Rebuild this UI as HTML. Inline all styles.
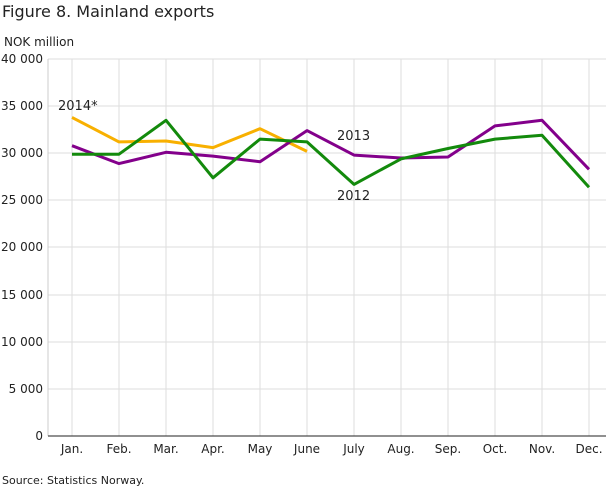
<!DOCTYPE html><html><head><style>body{margin:0;background:#fff;font-family:"Liberation Sans","DejaVu Sans",sans-serif}</style></head><body>
<svg width="610" height="488" xmlns="http://www.w3.org/2000/svg" font-family="'DejaVu Sans','Liberation Sans',sans-serif">
<text x="2" y="17" font-size="16" fill="#222">Figure 8. Mainland exports</text>
<text x="4" y="46" font-size="12" fill="#222">NOK million</text>
<g stroke="#ddd" stroke-width="1">
<line x1="48" x2="606" y1="59" y2="59"/><line x1="48" x2="606" y1="106" y2="106"/><line x1="48" x2="606" y1="153" y2="153"/><line x1="48" x2="606" y1="200" y2="200"/><line x1="48" x2="606" y1="247" y2="247"/><line x1="48" x2="606" y1="295" y2="295"/><line x1="48" x2="606" y1="342" y2="342"/><line x1="48" x2="606" y1="389" y2="389"/>
<line x1="72" x2="72" y1="59" y2="436"/><line x1="119" x2="119" y1="59" y2="436"/><line x1="166" x2="166" y1="59" y2="436"/><line x1="213" x2="213" y1="59" y2="436"/><line x1="260" x2="260" y1="59" y2="436"/><line x1="307" x2="307" y1="59" y2="436"/><line x1="354" x2="354" y1="59" y2="436"/><line x1="401" x2="401" y1="59" y2="436"/><line x1="448" x2="448" y1="59" y2="436"/><line x1="495" x2="495" y1="59" y2="436"/><line x1="542" x2="542" y1="59" y2="436"/><line x1="589" x2="589" y1="59" y2="436"/>
</g>
<line x1="48" x2="48" y1="59" y2="436" stroke="#ccc"/>
<line x1="48" x2="606" y1="436" y2="436" stroke="#222"/>
<g font-size="12" fill="#222" text-anchor="end">
<text x="43" y="63">40 000</text><text x="43" y="110">35 000</text><text x="43" y="157">30 000</text><text x="43" y="204">25 000</text><text x="43" y="251">20 000</text><text x="43" y="299">15 000</text><text x="43" y="346">10 000</text><text x="43" y="393">5 000</text><text x="43" y="440">0</text>
</g>
<g font-size="12" fill="#222" text-anchor="middle">
<text x="72" y="453">Jan.</text><text x="119" y="453">Feb.</text><text x="166" y="453">Mar.</text><text x="213" y="453">Apr.</text><text x="260" y="453">May</text><text x="307" y="453">June</text><text x="354" y="453">July</text><text x="401" y="453">Aug.</text><text x="448" y="453">Sep.</text><text x="495" y="453">Oct.</text><text x="542" y="453">Nov.</text><text x="589" y="453">Dec.</text>
</g>
<g fill="none" stroke-width="3" stroke-linejoin="round">
<polyline stroke="#f8b000" points="72,117.4 119,141.9 166,141 213,147.6 260,128.7 307,151.4"/>
<polyline stroke="#83008b" points="72,145.7 119,163.6 166,152.3 213,156.1 260,161.7 307,130.6 354,155.1 401,158 448,157 495,125.9 542,120.3 589,169.3"/>
<polyline stroke="#138a0c" points="72,154.2 119,154.2 166,120.3 213,177.8 260,139.1 307,141.9 354,184.4 401,158.9 448,148.5 495,139.1 542,135.3 589,187.2"/>
</g>
<g font-size="13" fill="#222">
<text x="58" y="110">2014*</text><text x="337" y="140">2013</text><text x="337" y="200">2012</text>
</g>
<text x="2" y="484" font-size="11" fill="#222">Source: Statistics Norway.</text>
</svg></body></html>
